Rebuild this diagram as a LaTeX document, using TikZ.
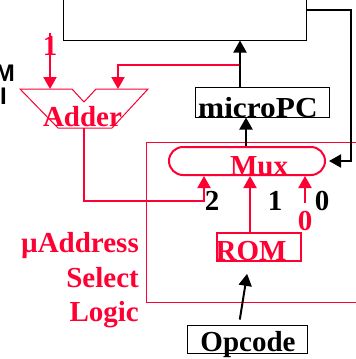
\documentclass[tikz,border=0pt]{standalone}
\usepackage{fontspec}
\setmainfont{Liberation Serif}
\newfontfamily\arialfont{Liberation Sans}
\usetikzlibrary{arrows.meta}
\definecolor{pptred}{RGB}{255,0,51}

\begin{document}
\begin{tikzpicture}[x=1pt, y=-1pt,
    lbl/.style={font=\bfseries\fontsize{29}{31}\selectfont, inner sep=0pt, anchor=base},
    redlbl/.style={lbl, text=pptred},
    cutlbl/.style={font=\arialfont\bfseries\fontsize{24}{26}\selectfont, inner sep=0pt, anchor=base east},
    redwire/.style={draw=pptred, line width=2pt},
    blkwire/.style={draw=black, line width=2pt},
    tip/.style={-{Triangle[length=12pt, width=13pt]}},
    blkbox/.style={draw=black, line width=1pt, inner sep=0pt},
    redbox/.style={draw=pptred, line width=2pt, inner sep=0pt}]
    \useasboundingbox (0,0) rectangle (356,359);

    % Control store (cut off at top)
    \node[blkbox, minimum width=243pt, minimum height=50pt] (ctrl) at (184.5,15) {};
    \node[cutlbl] (cutm) at (15,81) {M};
    \node[cutlbl] (cuti) at (7,104) {I};

    % microPC
    \node[blkbox, minimum width=134pt, minimum height=30pt] (upc) at (262,102) {};
    \node[lbl, anchor=base west] (upctext) at (198,117) {\scalebox{1.08}[1]{microPC}};

    % Select logic region
    \draw[draw=pptred, line width=1pt] (146,142) rectangle (370,302);
    \node[redlbl, anchor=base east] (uaddr) at (139,252) {µAddress};
    \node[redlbl, anchor=base east] (select) at (139,287) {Select};
    \node[redlbl, anchor=base east] (logic) at (139,321) {Logic};

    % Adder
    \coordinate (add1) at (50,89);
    \coordinate (add2) at (118,89);
    \coordinate (addout) at (84,128);
    \draw[draw=pptred, line width=1pt] (20,89) -- (72,89) -- (84,102) -- (96,89)
        -- (148,89) -- (112,128) -- (58,128) -- cycle;
    \node[redlbl] (addtext) at (82.5,126) {Adder};
    \node[redlbl] (one) at (50,55) {1};

    % Mux
    \node[redbox, rounded corners=14pt, minimum width=156pt, minimum height=28pt] (mux) at (247,161) {};
    \node[redlbl] (muxtext) at (259,175) {Mux};
    \node[lbl] (in2) at (212,210) {2};
    \node[lbl] (in1) at (275,210) {1};
    \node[lbl] (in0) at (322,210) {0};
    \node[redlbl] (zero) at (305,230) {0};

    % ROM and Opcode
    \node[redbox, minimum width=84pt, minimum height=28pt] (rom) at (259,247) {};
    \node[redlbl] (romtext) at (251,260) {ROM};
    \node[blkbox, minimum width=120pt, minimum height=28pt] (opcode) at (247,339) {};
    \node[lbl] (optext) at (248,351) {Opcode};

    % Wires
    \coordinate (tap) at (240,65);
    \coordinate (onetop) at (50,33);
    \coordinate (bend) at (204,201);
    \coordinate (fb) at (306,10);
    \draw[redwire, tip] (tap) -| (add2);
    \draw[redwire, tip] (onetop) -- (add1);
    \draw[redwire, tip] (addout) |- (bend) -- (bend |- mux.south);
    \draw[redwire, tip] ([xshift=-9pt]rom.north) -- ([xshift=-9pt]rom.north |- mux.south);
    \draw[redwire, tip, shorten <=8pt] (zero.north) -- (zero.north |- mux.south);
    \draw[blkwire, tip] (upc.north -| tap) -- (ctrl.south -| tap);
    \draw[blkwire, tip] ([xshift=-1pt]mux.north) -- ([xshift=-1pt]mux.north |- upc.south);
    \draw[blkwire, tip, shorten >=3pt] (fb) -- ++(45,0) |- (mux.east);
    \draw[blkwire, tip, shorten <=5pt, shorten >=12pt] ([xshift=-8pt]opcode.north) -- ([xshift=-10pt]rom.south);

\end{tikzpicture}
\end{document}
